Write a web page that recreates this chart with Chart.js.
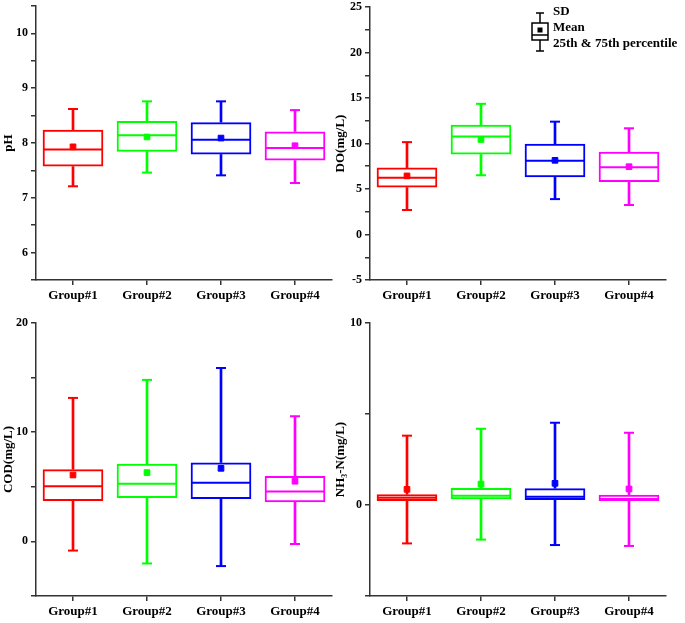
<!DOCTYPE html>
<html>
<head>
<meta charset="utf-8">
<script src="https://cdn.jsdelivr.net/npm/chart.js@4.4.1/dist/chart.umd.min.js"></script>
<style>
  body { margin: 0; background: #fff; width: 685px; height: 623px; position: relative; overflow: hidden; }
  canvas { position: absolute; }
</style>
</head>
<body>
<canvas id="c1" width="342" height="310" style="left:0;top:0"></canvas>
<canvas id="c2" width="353" height="310" style="left:332px;top:0"></canvas>
<canvas id="c3" width="342" height="313" style="left:0;top:310px"></canvas>
<canvas id="c4" width="353" height="313" style="left:332px;top:310px"></canvas>
<script>
const groups = ['Group#1', 'Group#2', 'Group#3', 'Group#4'];
const colors = ['#ff0000', '#00ff00', '#0000ff', '#ff00ff'];

// pH
const phLow  = [7.21, 7.46, 7.41, 7.27];
const phQ1   = [7.57, 7.84, 7.79, 7.68];
const phMed  = [7.88, 8.14, 8.06, 7.91];
const phQ3   = [8.24, 8.40, 8.38, 8.21];
const phHigh = [8.62, 8.76, 8.76, 8.60];
const phMean = [7.93, 8.11, 8.09, 7.95];

// DO (mg/L)
const doLow  = [2.69, 6.51, 3.89, 3.24];
const doQ1   = [5.16, 8.80, 6.29, 5.78];
const doMed  = [6.25, 10.76, 8.11, 7.38];
const doQ3   = [7.35, 12.07, 9.96, 9.09];
const doHigh = [10.15, 14.36, 12.40, 11.67];
const doMean = [6.44, 10.44, 8.15, 7.45];

// COD (mg/L)
const codLow  = [-0.84, -2.02, -2.26, -0.24];
const codQ1   = [3.70, 3.98, 3.89, 3.58];
const codMed  = [5.06, 5.27, 5.36, 4.58];
const codQ3   = [6.60, 7.11, 7.23, 5.99];
const codHigh = [13.14, 14.79, 15.88, 11.46];
const codMean = [6.08, 6.30, 6.69, 5.51];

// NH3-N (mg/L)
const nhLow  = [-2.11, -1.90, -2.20, -2.25];
const nhQ1   = [0.22, 0.31, 0.27, 0.22];
const nhMed  = [0.40, 0.51, 0.46, 0.33];
const nhQ3   = [0.59, 0.93, 0.92, 0.57];
const nhHigh = [3.81, 4.19, 4.52, 3.97];
const nhMean = [0.86, 1.15, 1.19, 0.88];

const serif = '"Liberation Serif", "Times New Roman", serif';
const axisColor = '#333';

function pointSet(data, style, radius, width) {
  return {
    type: 'line', data: data, showLine: false, order: 0,
    pointStyle: style, pointRadius: radius, pointHoverRadius: radius,
    pointBorderWidth: width, pointBorderColor: colors, pointBackgroundColor: colors
  };
}

function boxChart(id, s) {
  const ctx = document.getElementById(id).getContext('2d');
  return new Chart(ctx, {
    type: 'bar',
    data: {
      labels: groups,
      datasets: [
        { data: groups.map((g, i) => [s.low[i], s.q1[i]]), backgroundColor: colors,
          barThickness: 2, grouped: false, order: 3 },
        { data: groups.map((g, i) => [s.q3[i], s.high[i]]), backgroundColor: colors,
          barThickness: 2, grouped: false, order: 3 },
        { data: groups.map((g, i) => [s.q1[i], s.q3[i]]), backgroundColor: 'rgba(255,255,255,0)',
          borderColor: colors, borderWidth: 2, borderSkipped: false,
          barPercentage: 0.82, categoryPercentage: 1, grouped: false, order: 2 },
        pointSet(s.low, 'line', 5, 2),
        pointSet(s.high, 'line', 5, 2),
        pointSet(s.med, 'line', 29, 2),
        pointSet(s.mean, 'rect', 4, 1)
      ]
    },
    options: {
      responsive: false,
      animation: false,
      events: [],
      layout: { autoPadding: false, padding: s.pad },
      plugins: { legend: { display: false }, tooltip: { enabled: false } },
      scales: {
        x: {
          offset: true,
          grid: { display: true, drawOnChartArea: false, offset: false, tickLength: 5, color: axisColor, lineWidth: 1.5 },
          border: { display: true, color: axisColor, width: 1.5 },
          ticks: { color: '#000', padding: 3, maxRotation: 0, autoSkip: false,
                   font: { family: serif, size: 13, weight: 'bold' } },
          afterFit: sc => { sc.height = s.xh; sc.paddingLeft = 0; sc.paddingRight = 0; }
        },
        y: {
          min: s.min, max: s.max,
          grid: { display: true, drawOnChartArea: false, tickLength: 5, color: axisColor, lineWidth: 1.5 },
          border: { display: true, color: axisColor, width: 1.5 },
          ticks: { stepSize: s.step, autoSkip: false, color: '#000', padding: 3,
                   font: { family: serif, size: 12, weight: 'bold' },
                   callback: v => (Math.abs(v / s.major - Math.round(v / s.major)) < 1e-6 ? String(v) : '') },
          title: { display: true, text: s.title, color: '#000', padding: { top: 1, bottom: 0 },
                   font: { family: serif, size: 13, weight: 'bold' } },
          afterFit: sc => { sc.width = s.yw; sc.paddingTop = 0; sc.paddingBottom = 0; }
        }
      }
    },
    plugins: s.extra ? [s.extra] : []
  });
}

const legendIcon = {
  id: 'legendIcon',
  afterDraw(chart) {
    const c = chart.ctx;
    const x = 208;
    c.save();
    c.strokeStyle = '#000';
    c.lineWidth = 1.5;
    c.beginPath();
    c.moveTo(x - 4, 13); c.lineTo(x + 4, 13);
    c.moveTo(x, 13); c.lineTo(x, 23);
    c.moveTo(x, 40); c.lineTo(x, 51);
    c.moveTo(x - 4, 51); c.lineTo(x + 4, 51);
    c.moveTo(x - 8, 35); c.lineTo(x + 8, 35);
    c.stroke();
    c.strokeRect(x - 8, 23, 16, 17);
    c.fillStyle = '#000';
    c.fillRect(x - 2.5, 27.5, 5, 5);
    c.font = 'bold 13px ' + serif;
    c.textBaseline = 'middle';
    c.textAlign = 'left';
    c.fillText('SD', 221, 12);
    c.fillText('Mean', 221, 28);
    c.fillText('25th & 75th percentile', 221, 44);
    c.restore();
  }
};

boxChart('c1', { low: phLow, q1: phQ1, med: phMed, q3: phQ3, high: phHigh, mean: phMean,
  min: 5.5, max: 10.5, step: 0.5, major: 1, title: 'pH',
  yw: 36, xh: 30, pad: { top: 6, right: 10, bottom: 0, left: 0 } });

boxChart('c2', { low: doLow, q1: doQ1, med: doMed, q3: doQ3, high: doHigh, mean: doMean,
  min: -5, max: 25, step: 2.5, major: 5, title: 'DO(mg/L)',
  yw: 38, xh: 30, pad: { top: 7, right: 19, bottom: 0, left: 0 }, extra: legendIcon });

boxChart('c3', { low: codLow, q1: codQ1, med: codMed, q3: codQ3, high: codHigh, mean: codMean,
  min: -5, max: 20, step: 5, major: 10, title: 'COD(mg/L)',
  yw: 36, xh: 27, pad: { top: 13, right: 10, bottom: 0, left: 0 } });

boxChart('c4', { low: nhLow, q1: nhQ1, med: nhMed, q3: nhQ3, high: nhHigh, mean: nhMean,
  min: -5, max: 10, step: 5, major: 10, title: 'NH₃-N(mg/L)',
  yw: 38, xh: 27, pad: { top: 13, right: 19, bottom: 0, left: 0 } });
</script>
</body>
</html>
